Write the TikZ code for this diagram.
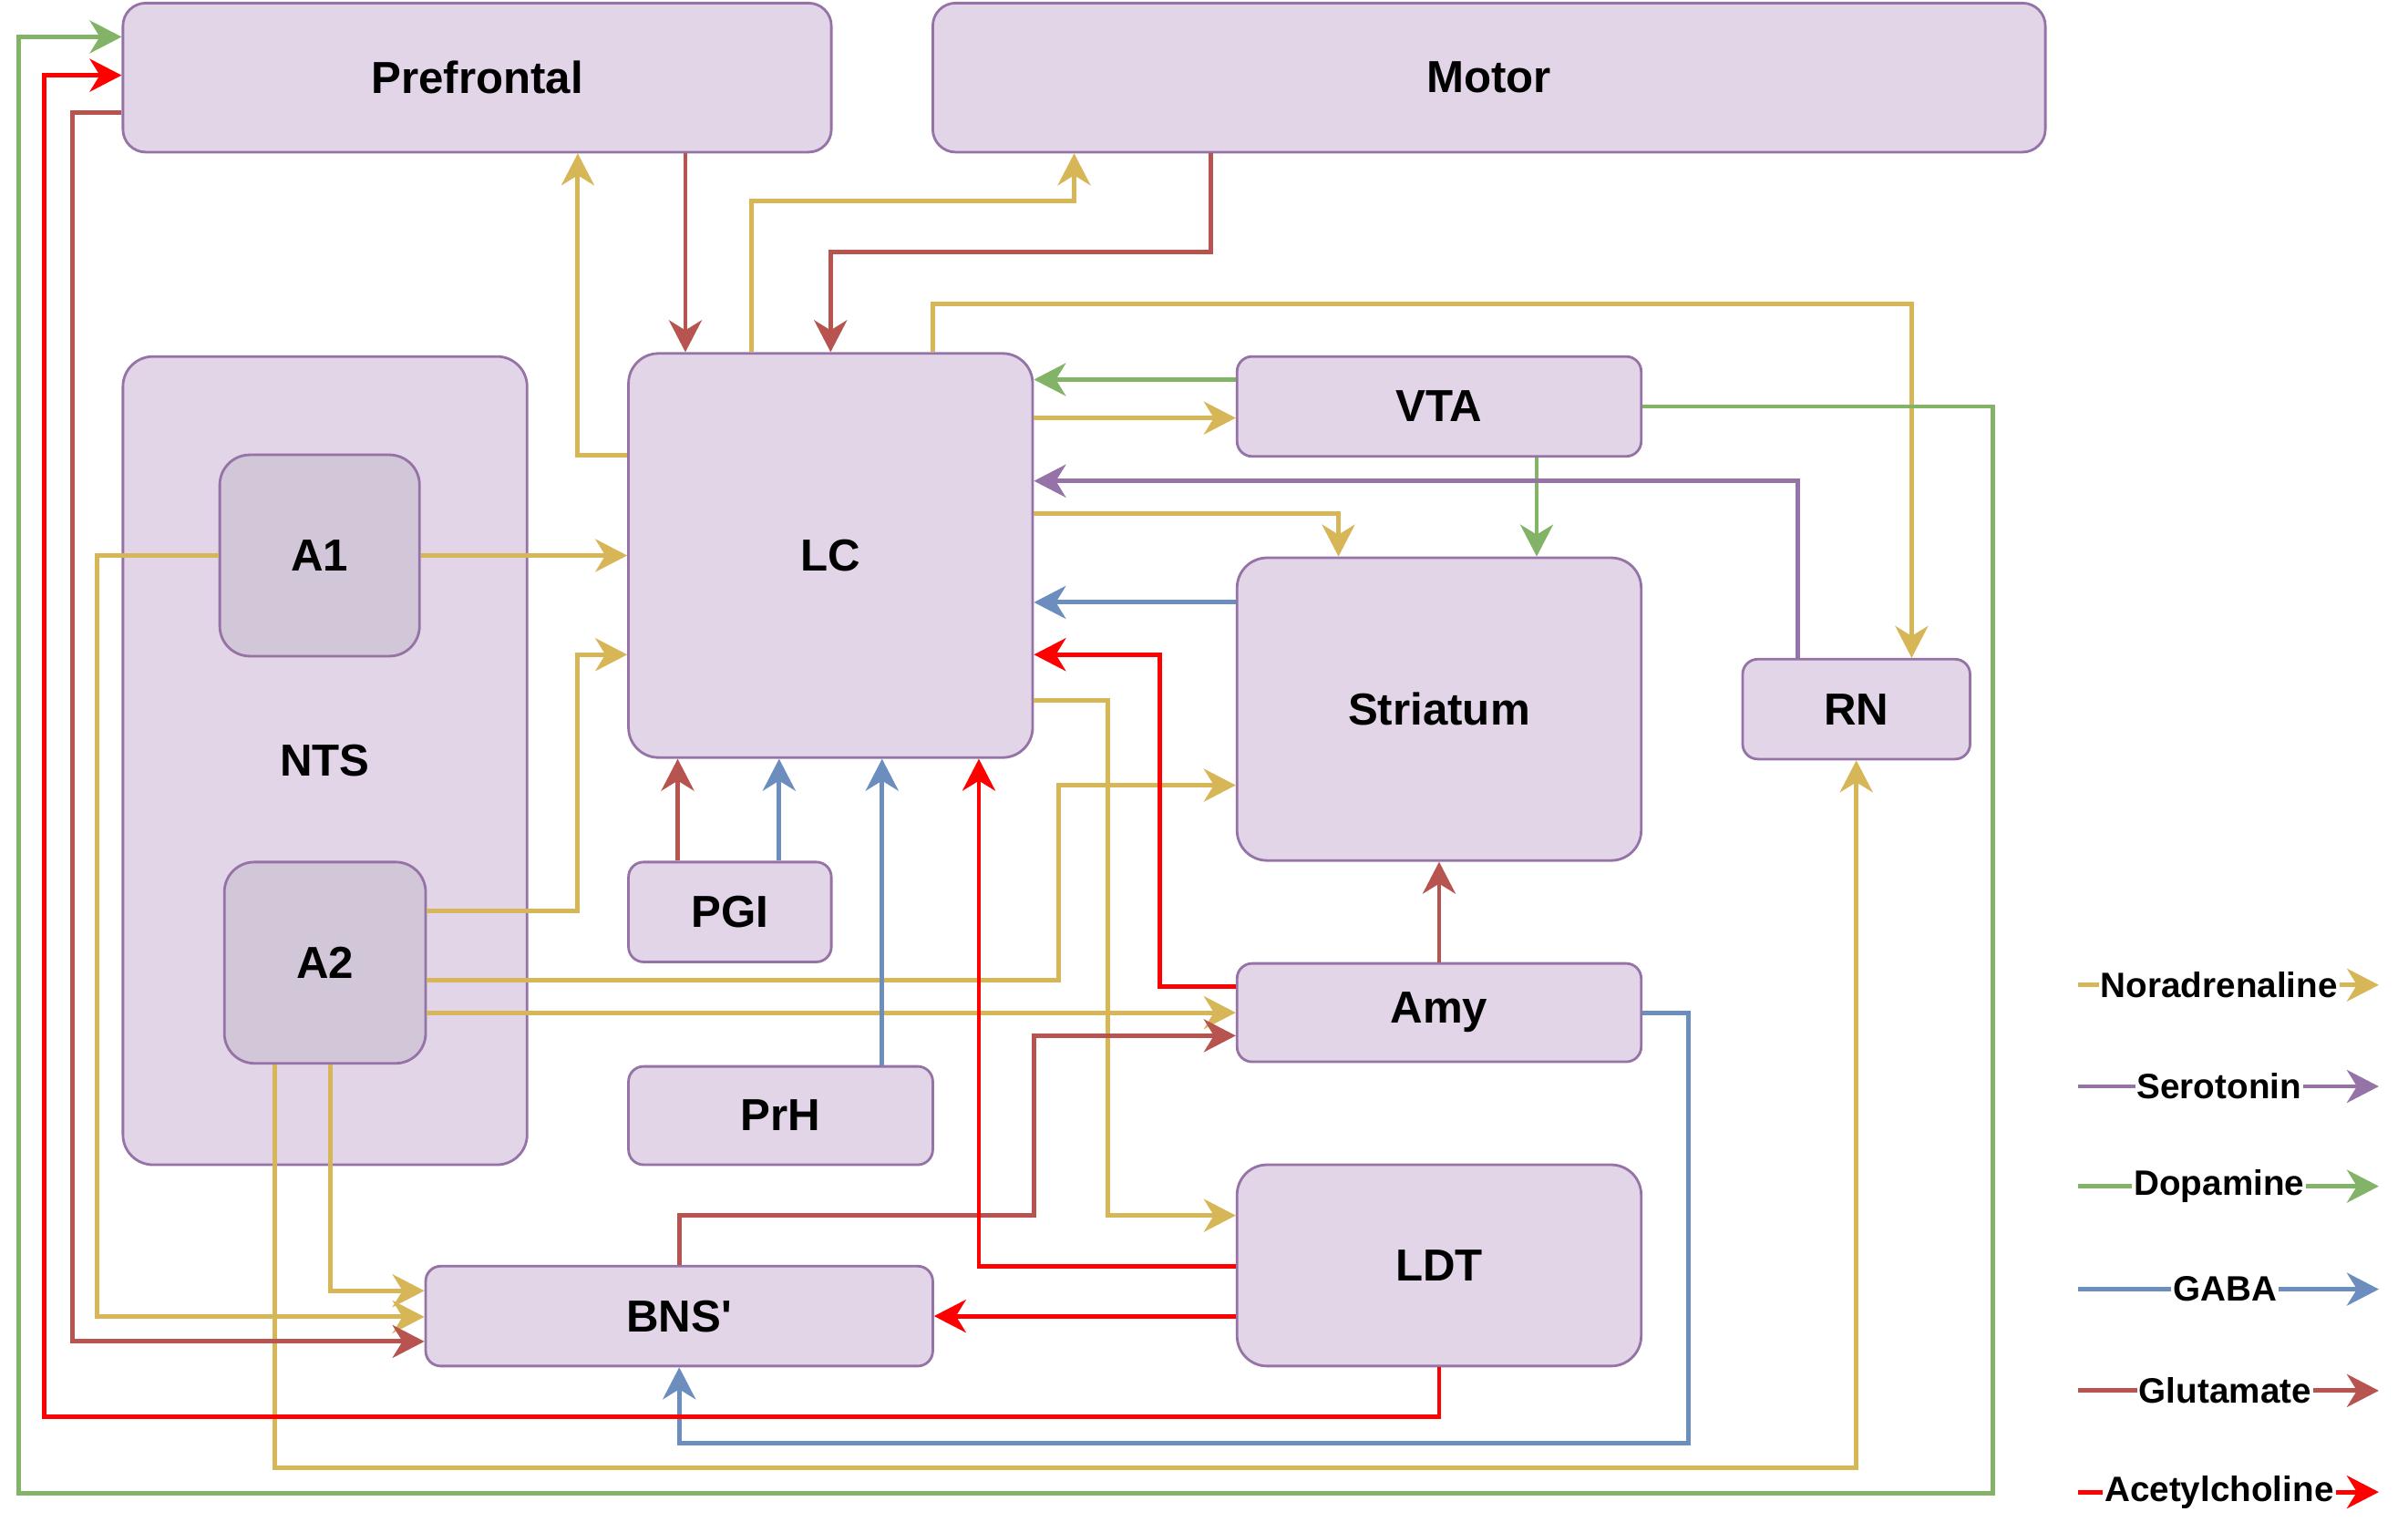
\documentclass[tikz,border=0pt]{standalone}
\usepackage{fontspec}
\setmainfont{Liberation Sans}
\usepackage{tikz}
\usetikzlibrary{arrows.meta}
\newcommand\dpx{0.1686mm}
\definecolor{boxfill}{HTML}{E1D5E7}
\definecolor{boxline}{HTML}{9673A6}
\definecolor{nucfill}{HTML}{D1C7D9}
\definecolor{cnor}{HTML}{D6B656}
\definecolor{cser}{HTML}{9673A6}
\definecolor{cdop}{HTML}{82B366}
\definecolor{cgaba}{HTML}{6C8EBF}
\definecolor{cglu}{HTML}{B85450}
\definecolor{cach}{HTML}{FF0000}
\tikzstyle{region} = [draw=boxline, fill=boxfill, line width=0.8pt, rounded corners=3.3mm, inner sep=0pt, font=\bfseries\fontsize{14}{17}\selectfont]
\tikzstyle{nucleus} = [region, fill=nucfill]
\tikzstyle{cortex} = [region, rounded corners=2.5mm]
\tikzstyle{slim} = [region, rounded corners=1.65mm]
\tikzstyle{line} = [line width=1.4pt, -{Stealth[length=3.5mm, width=3.6mm, inset=1.1mm]}]
\tikzstyle{noradr} = [line, draw=cnor]
\tikzstyle{sero} = [line, draw=cser]
\tikzstyle{dopa} = [line, draw=cdop]
\tikzstyle{gaba} = [line, draw=cgaba]
\tikzstyle{glut} = [line, draw=cglu]
\tikzstyle{acet} = [line, draw=cach]
\tikzstyle{key} = [fill=white, inner sep=0.6pt, font=\bfseries\fontsize{11}{13}\selectfont]

\begin{document}
\begin{tikzpicture}[x=\dpx, y=-\dpx]
	\useasboundingbox (0,0) rectangle (1567,990);

	% ------------------- Areas ------------------- %
	\node[cortex, minimum width=461*\dpx, minimum height=97*\dpx] (pf) at (310.5,50.5) {Prefrontal};
	\node[cortex, minimum width=724*\dpx, minimum height=97*\dpx] (motor) at (969,50.5) {Motor};
	\node[region, minimum width=263*\dpx, minimum height=526*\dpx] (nts) at (211.5,495) {NTS};
	\node[nucleus, minimum width=130*\dpx, minimum height=131*\dpx] (a1) at (208,361.5) {A1};
	\node[nucleus, minimum width=131*\dpx, minimum height=131*\dpx] (a2) at (211.5,626.5) {A2};
	\node[region, minimum width=263*\dpx, minimum height=263*\dpx] (lc) at (540.5,361.5) {LC};
	\node[slim, minimum width=263*\dpx, minimum height=65*\dpx] (vta) at (936.5,264.5) {VTA};
	\node[region, minimum width=263*\dpx, minimum height=197*\dpx] (str) at (936.5,461.5) {Striatum};
	\node[slim, minimum width=148*\dpx, minimum height=65*\dpx] (rn) at (1208,461.5) {RN};
	\node[slim, minimum width=132*\dpx, minimum height=65*\dpx] (pgi) at (475,593.5) {PGI};
	\node[slim, minimum width=198*\dpx, minimum height=64*\dpx] (prh) at (508,726) {PrH};
	\node[slim, minimum width=263*\dpx, minimum height=64*\dpx] (amy) at (936.5,659) {Amy};
	\node[region, minimum width=263*\dpx, minimum height=131*\dpx] (ldt) at (936.5,823.5) {LDT};
	\node[slim, minimum width=330*\dpx, minimum height=65*\dpx] (bnst) at (442,856.5) {BNS\textquotesingle};

	% ------------------- Noradrenaline ------------------- %
	\draw[noradr] (lc.west |- 0,296) -| (pf.south -| 376,0);
	\draw[noradr] (lc.north -| 489,0) |- (699,131) -- (motor.south -| 699,0);
	\draw[noradr] (lc.north -| 607,0) |- (1244,198) -- (rn.north -| 1244,0);
	\draw[noradr] (lc.east |- 0,272) -- (vta.west |- 0,272);
	\draw[noradr] (lc.east |- 0,334) -| (str.north -| 871,0);
	\draw[noradr] (lc.east |- 0,456) -| (721,791) -- (ldt.west |- 0,791);
	\draw[noradr] (a1.east) -- (lc.west |- a1.east);
	\draw[noradr] (a1.west) -| (63,857) -- (bnst.west |- 0,857);
	\draw[noradr] (a2.east |- 0,593) -| (376,426) -- (lc.west |- 0,426);
	\draw[noradr] (a2.east |- 0,638) -| (689,511) -- (str.west |- 0,511);
	\draw[noradr] (a2.east |- amy.west) -- (amy.west);
	\draw[noradr] (a2.south -| 215,0) |- (bnst.west |- 0,840);
	\draw[noradr] (a2.south -| 179,0) |- (rn.south |- 0,955) -- (rn.south);

	% ------------------- Glutamate ------------------- %
	\draw[glut] (pf.south -| 446,0) -- (lc.north -| 446,0);
	\draw[glut] (motor.south -| 788,0) |- (lc.north |- 0,164) -- (lc.north);
	\draw[glut] (pf.west |- 0,73) -| (47,873) -- (bnst.west |- 0,873);
	\draw[glut] (pgi.north -| 441,0) -- (lc.south -| 441,0);
	\draw[glut] (amy.north) -- (str.south);
	\draw[glut] (bnst.north) |- (673,791) |- (amy.west |- 0,674);

	% ------------------- GABA ------------------- %
	\draw[gaba] (pgi.north -| 507,0) -- (lc.south -| 507,0);
	\draw[gaba] (prh.north -| 574,0) -- (lc.south -| 574,0);
	\draw[gaba] (str.west |- 0,392) -- (lc.east |- 0,392);
	\draw[gaba] (amy.east) -| (1099,939) -| (bnst.south);

	% ------------------- Dopamine ------------------- %
	\draw[dopa] (vta.west |- 0,247) -- (lc.east |- 0,247);
	\draw[dopa] (vta.south -| 1000,0) -- (str.north -| 1000,0);
	\draw[dopa] (vta.east) -| (1297,972) -| (12,24) -- (pf.west |- 0,24);

	% ------------------- Serotonin ------------------- %
	\draw[sero] (rn.north -| 1170,0) |- (lc.east |- 0,313);

	% ------------------- Acetylcholine ------------------- %
	\draw[acet] (amy.west |- 0,642) -| (755,426) -- (lc.east |- 0,426);
	\draw[acet] (ldt.west |- 0,824) -| (lc.south -| 637,0);
	\draw[acet] (ldt.west |- bnst.east) -- (bnst.east);
	\draw[acet] (ldt.south) |- (29,922) |- (pf.west |- 0,49);

	% ------------------- Legend ------------------- %
	\coordinate (nor0) at (1352,641); \coordinate (nor1) at (1548,641);
	\coordinate (ser0) at (1352,707); \coordinate (ser1) at (1548,707);
	\coordinate (dop0) at (1352,772); \coordinate (dop1) at (1548,772);
	\coordinate (gab0) at (1352,839); \coordinate (gab1) at (1548,839);
	\coordinate (glu0) at (1352,905); \coordinate (glu1) at (1548,905);
	\coordinate (ach0) at (1352,971); \coordinate (ach1) at (1548,971);
	\draw[noradr] (nor0) -- (nor1) node[key, pos=0.47] (knor) {Noradrenaline};
	\draw[sero] (ser0) -- (ser1) node[key, pos=0.47] (kser) {Serotonin};
	\draw[dopa] (dop0) -- (dop1) node[key, pos=0.47] (kdop) {Dopamine};
	\draw[gaba] (gab0) -- (gab1) node[key, pos=0.49] (kgab) {GABA};
	\draw[glut] (glu0) -- (glu1) node[key, pos=0.49] (kglu) {Glutamate};
	\draw[acet] (ach0) -- (ach1) node[key, pos=0.47] (kach) {Acetylcholine};
\end{tikzpicture}
\end{document}
